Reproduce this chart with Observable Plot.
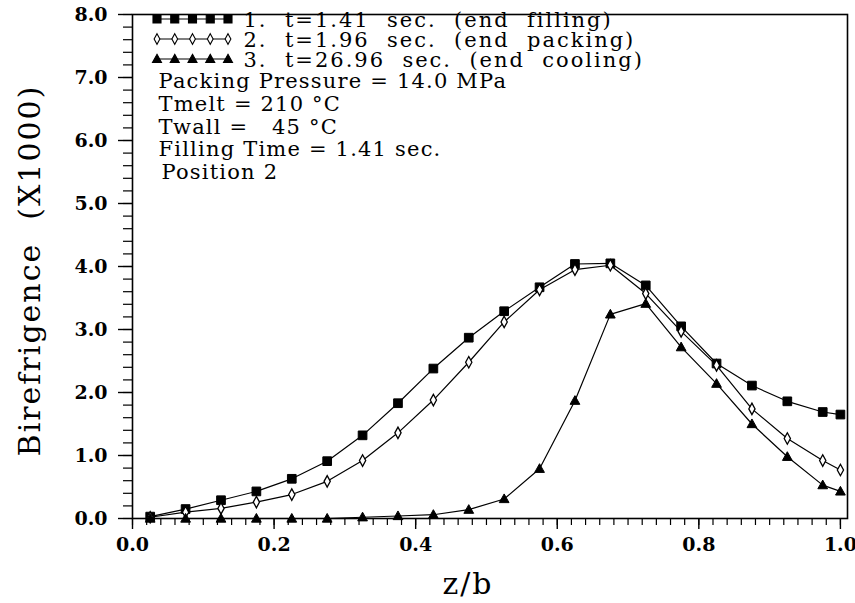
<!DOCTYPE html>
<html><head><meta charset="utf-8">
<script src="https://cdn.jsdelivr.net/npm/d3@7"></script>
<script src="https://cdn.jsdelivr.net/npm/@observablehq/plot@0.6"></script>
<style>
body{margin:0;background:#fff;}
#chart svg text{white-space:pre;font-family:"DejaVu Serif",serif;}
#chart g[aria-label="x-axis tick label"], #chart g[aria-label="y-axis tick label"]{font-family:"DejaVu Serif",serif;font-weight:bold;font-size:19px;}
#chart g.legendtext text{letter-spacing:2px;}
#chart g.notetext text{letter-spacing:1.2px;}
#chart g.title text{letter-spacing:2px;}
</style></head><body><div id="chart"></div>
<script>
// Position across thickness z/b
const zb = [0.025,0.075,0.125,0.175,0.225,0.275,0.325,0.375,0.425,0.475,0.525,0.575,0.625,0.675,0.725,0.775,0.825,0.875,0.925,0.975,1.0];
// Birefringence (x1000)
const series1 = [0.03,0.15,0.29,0.43,0.63,0.91,1.32,1.83,2.38,2.87,3.29,3.67,4.04,4.05,3.70,3.05,2.46,2.11,1.86,1.69,1.65];
const series2 = [0.02,0.10,0.16,0.26,0.38,0.59,0.92,1.36,1.88,2.48,3.12,3.63,3.95,4.02,3.57,2.97,2.43,1.74,1.27,0.92,0.77];
const series3 = [0.0,0.0,0.0,0.0,0.0,0.0,0.02,0.04,0.06,0.14,0.31,0.79,1.87,3.24,3.41,2.72,2.14,1.50,0.98,0.53,0.43];
const seriesNames = ["1.  t=1.41  sec.  (end  filling)","2.  t=1.96  sec.  (end  packing)","3.  t=26.96  sec.  (end  cooling)"];
const notes = ["Packing Pressure = 14.0 MPa","Tmelt = 210 \u00B0C","Twall =   45 \u00B0C","Filling Time = 1.41 sec."];
const positionNote = "Position 2";
const xTicks = [0.0,0.2,0.4,0.6,0.8,1.0];
const yTicks = [0,1,2,3,4,5,6,7,8];
const yTitle = "Birefrigence  (X1000)";
const xTitle = "z/b";

const rows = (ys) => zb.map((x,i)=>({x, y: ys[i]}));

const sqSym = {draw(ctx, size){const s=Math.sqrt(size)*0.5; ctx.moveTo(-s,-s); ctx.lineTo(s,-s); ctx.lineTo(s,s); ctx.lineTo(-s,s); ctx.closePath();}};
const dmSym = {draw(ctx, size){const s=Math.sqrt(size); const w=s*0.36, h=s*0.66; ctx.moveTo(0,-h); ctx.lineTo(w,0); ctx.lineTo(0,h); ctx.lineTo(-w,0); ctx.closePath();}};
const trSym = {draw(ctx, size){const s=Math.sqrt(size); const w=s*0.56, t=s*0.58, b=s*0.42; ctx.moveTo(0,-t); ctx.lineTo(w,b); ctx.lineTo(-w,b); ctx.closePath();}};

const R = 4.9;
const font = "DejaVu Serif";
const chart = Plot.plot({
  width: 855, height: 603,
  marginLeft: 132, marginRight: 8, marginTop: 14, marginBottom: 85,
  style: {fontFamily: font, background: "#fff", color: "#000"},
  x: {domain: [0, 1.01], label: null},
  y: {domain: [0, 8], label: null},
  marks: [
    Plot.axisX(d3.range(0, 1.0001, 0.02), {tickSize: 7, tickFormat: () => "", label: null, strokeWidth: 1.2}),
    Plot.axisX(xTicks, {tickSize: 11, tickPadding: 8, tickFormat: d => d.toFixed(1), label: null, strokeWidth: 1.4}),
    Plot.axisY(d3.range(0, 8.0001, 0.2), {tickSize: 9, tickFormat: () => "", label: null, strokeWidth: 1.2}),
    Plot.axisY(yTicks, {tickSize: 14, tickPadding: 11, tickFormat: d => d.toFixed(1), label: null, strokeWidth: 1.4}),
    Plot.frame({stroke: "#000", strokeWidth: 1.6}),
    Plot.line(rows(series1), {x: "x", y: "y", stroke: "#000", strokeWidth: 1.2}),
    Plot.line(rows(series2), {x: "x", y: "y", stroke: "#000", strokeWidth: 1.2}),
    Plot.line(rows(series3), {x: "x", y: "y", stroke: "#000", strokeWidth: 1.2}),
    Plot.dot(rows(series1), {x: "x", y: "y", symbol: sqSym, r: R, fill: "#000", stroke: "#000", strokeWidth: 1}),
    Plot.dot(rows(series2), {x: "x", y: "y", symbol: dmSym, r: R, fill: "#fff", stroke: "#000", strokeWidth: 1.3}),
    Plot.dot(rows(series3), {x: "x", y: "y", symbol: trSym, r: R, fill: "#000", stroke: "#000", strokeWidth: 1}),
    Plot.text([seriesNames.join("\n")], {className: "legendtext", frameAnchor: "top-left", dx: 111, dy: -2, textAnchor: "start", lineAnchor: "top", lineHeight: 0.95, fontSize: 21, fontFamily: font, fill: "#000"}),
    Plot.text([notes.join("\n")], {className: "notetext", frameAnchor: "top-left", dx: 26, dy: 57, textAnchor: "start", lineAnchor: "top", lineHeight: 1.09, fontSize: 21, fontFamily: font, fill: "#000"}),
    Plot.text([positionNote], {className: "notetext", frameAnchor: "top-left", dx: 29, dy: 150, textAnchor: "start", lineAnchor: "top", fontSize: 21, fontFamily: font, fill: "#000"}),
    Plot.text([yTitle], {className: "title", frameAnchor: "left", dx: -102, dy: 4, rotate: -90, textAnchor: "middle", lineAnchor: "middle", fontSize: 30, fontFamily: font, fill: "#000"}),
    Plot.text([xTitle], {className: "title", frameAnchor: "bottom", dx: -22, dy: 66, textAnchor: "middle", lineAnchor: "middle", fontSize: 30, fontFamily: font, fill: "#000"})
  ]
});
document.getElementById("chart").appendChild(chart);

// Legend keys (sample line + 5 symbols per series)
const svg = d3.select(chart);
const keys = [{sym: sqSym, fill: "#000"}, {sym: dmSym, fill: "#fff"}, {sym: trSym, fill: "#000"}];
const g = svg.append("g").attr("aria-label", "legend keys");
keys.forEach((k, i) => {
  const y = 19 + i * 20;
  g.append("line").attr("x1", 157).attr("x2", 228).attr("y1", y).attr("y2", y).attr("stroke", "#000").attr("stroke-width", 1.2);
  for (let j = 0; j < 5; j++) {
    g.append("path").attr("d", d3.symbol(k.sym, R * R * Math.PI * 0.85)())
      .attr("transform", `translate(${157 + j * 17.75},${y})`)
      .attr("fill", k.fill).attr("stroke", "#000").attr("stroke-width", 1.1);
  }
});
</script></body></html>
